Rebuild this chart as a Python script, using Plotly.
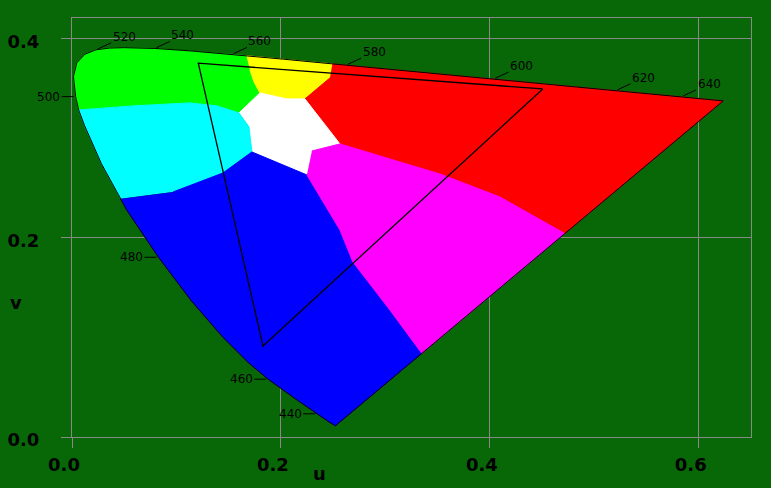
import plotly.graph_objects as go

# ---------------- data ----------------
# CIE 1960 UCS spectral locus (wavelength nm, u, v)
wavelengths = [420, 430, 440, 450, 460, 465, 470, 475, 480, 485, 486, 490, 495, 498,
               500, 505, 510, 515, 520, 525, 530, 540, 550, 560, 563, 570, 578, 580,
               590, 600, 610, 620, 630, 640, 650, 680, 700]
locus_u = [0.2522, 0.2461, 0.2347, 0.2161, 0.1877, 0.1690, 0.1441, 0.1147, 0.0828, 0.0521,
           0.0466, 0.0282, 0.0119, 0.0064, 0.0035, 0.0014, 0.0046, 0.0123, 0.0231, 0.0360,
           0.0501, 0.0792, 0.1127, 0.1531, 0.1669, 0.2026, 0.2493, 0.2623, 0.3315, 0.4035,
           0.4692, 0.5203, 0.5565, 0.5830, 0.6005, 0.6199, 0.6234]
locus_v = [0.0113, 0.0151, 0.0233, 0.0366, 0.0581, 0.0746, 0.1007, 0.1362, 0.1806, 0.2285,
           0.2393, 0.2745, 0.3132, 0.3286, 0.3420, 0.3621, 0.3759, 0.3846, 0.3891, 0.3908,
           0.3912, 0.3904, 0.3880, 0.3844, 0.3831, 0.3796, 0.3749, 0.3736, 0.3667, 0.3596,
           0.3530, 0.3479, 0.3443, 0.3417, 0.3400, 0.3380, 0.3377]

# region boundaries (u, v)
green_cyan_u = [0.0064, 0.0584, 0.1129, 0.1388, 0.1598]
green_cyan_v = [0.3286, 0.3327, 0.3357, 0.3327, 0.3256]
green_yellow_u = [0.1669, 0.1703, 0.1742, 0.1799]
green_yellow_v = [0.3831, 0.3688, 0.3568, 0.3457]
green_white_u = [0.1799, 0.1598]
green_white_v = [0.3457, 0.3256]
yellow_white_u = [0.1799, 0.2057, 0.2230]
yellow_white_v = [0.3457, 0.3397, 0.3397]
yellow_red_u = [0.2230, 0.2469, 0.2493]
yellow_red_v = [0.3397, 0.3608, 0.3749]
red_white_u = [0.2230, 0.2565]
red_white_v = [0.3397, 0.2945]
red_magenta_u = [0.2565, 0.2947, 0.3522, 0.4096, 0.4718]
red_magenta_v = [0.2945, 0.2824, 0.2643, 0.2412, 0.2044]
magenta_white_u = [0.2565, 0.2297, 0.2249]
magenta_white_v = [0.2945, 0.2874, 0.2633]
blue_magenta_u = [0.2249, 0.2565, 0.2689, 0.3043, 0.3349]
blue_magenta_v = [0.2633, 0.2080, 0.1759, 0.1276, 0.0840]
blue_white_u = [0.2249, 0.1895, 0.1722]
blue_white_v = [0.2633, 0.2784, 0.2864]
cyan_white_u = [0.1722, 0.1694, 0.1598]
cyan_white_v = [0.2864, 0.3116, 0.3256]
cyan_blue_u = [0.1722, 0.1445, 0.0967, 0.0466]
cyan_blue_v = [0.2864, 0.2653, 0.2462, 0.2393]

# gamut triangle (R, G, B)
triangle_u = [0.4507, 0.1209, 0.1828]
triangle_v = [0.3497, 0.3756, 0.0915]

label_wavelengths = [440, 460, 480, 500, 520, 540, 560, 580, 600, 620, 640]

u_ticks = [0.0, 0.2, 0.4, 0.6]
v_ticks = [0.0, 0.2, 0.4]

# ---------------- helpers ----------------
def pts(us, vs):
    return list(zip(us, vs))

def rev(p):
    return list(reversed(p))

def locus_seg(w0, w1):
    i0, i1 = wavelengths.index(w0), wavelengths.index(w1)
    p = pts(locus_u, locus_v)
    if i0 <= i1:
        return p[i0:i1 + 1]
    return list(reversed(p[i1:i0 + 1]))

gc = pts(green_cyan_u, green_cyan_v)
gy = pts(green_yellow_u, green_yellow_v)
gw = pts(green_white_u, green_white_v)
yw = pts(yellow_white_u, yellow_white_v)
yr = pts(yellow_red_u, yellow_red_v)
rw = pts(red_white_u, red_white_v)
rm = pts(red_magenta_u, red_magenta_v)
mw = pts(magenta_white_u, magenta_white_v)
bm = pts(blue_magenta_u, blue_magenta_v)
bw = pts(blue_white_u, blue_white_v)
cw = pts(cyan_white_u, cyan_white_v)
cb = pts(cyan_blue_u, cyan_blue_v)

regions = [
    ("#00FF00", locus_seg(498, 563) + gy[1:] + gw[1:] + rev(gc)[1:-1]),
    ("#FFFF00", locus_seg(563, 578) + rev(yr)[1:] + rev(yw)[1:] + rev(gy)[1:-1]),
    ("#FF0000", locus_seg(578, 700) + rev(rm) + rev(rw)[1:] + yr[1:-1]),
    ("#FFFFFF", rev(gw) + yw[1:] + rw[1:] + mw[1:] + bw[1:] + cw[1:-1]),
    ("#00FFFF", locus_seg(486, 498) + gc[1:] + rev(cw)[1:] + cb[1:-1]),
    ("#0000FF", locus_seg(486, 420) + rev(bm) + bw[1:] + cb[1:-1]),
    ("#FF00FF", bm + rev(rm) + mw[1:-1]),
]

fig = go.Figure()
for col, poly in regions:
    fig.add_trace(go.Scatter(
        x=[p[0] for p in poly], y=[p[1] for p in poly],
        mode="lines", fill="toself", fillcolor=col,
        line=dict(color=col, width=1), hoverinfo="skip", showlegend=False))

# locus outline
fig.add_trace(go.Scatter(x=locus_u + [locus_u[0]], y=locus_v + [locus_v[0]], mode="lines",
                         line=dict(color="black", width=1), hoverinfo="skip", showlegend=False))
# triangle
fig.add_trace(go.Scatter(x=triangle_u + [triangle_u[0]], y=triangle_v + [triangle_v[0]],
                         mode="lines", line=dict(color="black", width=1.3),
                         hoverinfo="skip", showlegend=False))

annotations = []
for w in label_wavelengths:
    i = wavelengths.index(w)
    if w <= 500:
        ax, ay = -27, 0
    else:
        ax, ay = 28, -13
    annotations.append(dict(x=locus_u[i], y=locus_v[i], xref="x", yref="y",
                            text=str(w), showarrow=True, ax=ax, ay=ay,
                            arrowhead=0, arrowwidth=1, arrowcolor="black", standoff=2,
                            font=dict(family="DejaVu Sans", size=12, color="black")))
annotations.append(dict(x=0.364, y=-0.088, xref="paper", yref="paper", text="u",
                        xanchor="center", yanchor="middle", showarrow=False,
                        font=dict(family="DejaVu Sans", size=18, color="black", weight="bold")))
annotations.append(dict(x=-0.0825, y=0.322, xref="paper", yref="paper", text="v",
                        xanchor="center", yanchor="middle", showarrow=False,
                        font=dict(family="DejaVu Sans", size=18, color="black", weight="bold")))

bg = "rgb(8,104,8)"
axis_common = dict(showgrid=True, gridcolor="#888888", gridwidth=1, zeroline=False,
                   showline=True, linecolor="#888888", linewidth=1, mirror=True,
                   ticks="outside", ticklen=10, tickcolor="#888888", tickwidth=1,
                   tickformat=".1f", automargin=False,
                   tickfont=dict(family="DejaVu Sans", size=18, color="black", weight="bold"))

fig.update_layout(
    width=771, height=488,
    margin=dict(l=72, r=20, t=18, b=51, autoexpand=False),
    paper_bgcolor=bg, plot_bgcolor=bg,
    xaxis=dict(range=[0, 0.65], tickvals=u_ticks, ticklabelshift=-8, ticklabelstandoff=1, **axis_common),
    yaxis=dict(range=[0, 0.421], tickvals=v_ticks, ticklabelstandoff=18, ticklabelshift=3, **axis_common),
    annotations=annotations,
    showlegend=False,
)

fig.write_html("out.html", config={"displayModeBar": False},
               post_script="document.body.style.margin='0';document.body.style.overflow='hidden';")
